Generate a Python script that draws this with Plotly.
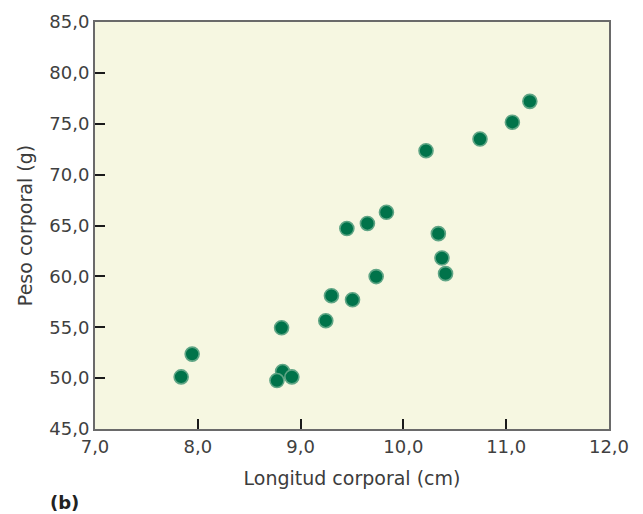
import plotly.graph_objects as go

longitud = [11.23, 11.06, 10.745, 10.22, 9.835, 9.65, 9.45, 10.34, 10.375, 10.41,
            9.735, 9.30, 9.505, 9.245, 8.815, 7.945, 7.838, 8.825, 8.915, 8.77]
peso = [77.2, 75.15, 73.5, 72.35, 66.3, 65.2, 64.7, 64.2, 61.8, 60.27,
        59.98, 58.1, 57.7, 55.64, 54.95, 52.36, 50.12, 50.65, 50.12, 49.76]

x_ticks = [7, 8, 9, 10, 11, 12]
y_ticks = [45, 50, 55, 60, 65, 70, 75, 80, 85]

fig = go.Figure()
fig.add_trace(go.Scatter(
    x=longitud, y=peso, mode="markers",
    marker=dict(size=14, color="#00734A", line=dict(color="#5FA585", width=1.6)),
    showlegend=False, hoverinfo="skip"))

font_family = "DejaVu Sans, Liberation Sans, Arial, sans-serif"
tick_font = dict(family=font_family, size=18, color="#404040")
fig.update_layout(
    width=643, height=514,
    margin=dict(l=95, r=34, t=22, b=85),
    paper_bgcolor="white",
    plot_bgcolor="#F6F7E1",
    separators=",.",
    font=dict(family=font_family, size=18, color="#3c3c3c"),
    xaxis=dict(range=[7, 12], tickvals=x_ticks, tickformat=".1f", tickfont=tick_font,
               ticks="inside", ticklen=10, tickwidth=2, tickcolor="#1a1a1a",
               showline=True, linecolor="#6a6a6a", linewidth=2, mirror=True,
               showgrid=False, zeroline=False,
               title=dict(text="Longitud corporal (cm)", font=dict(size=19), standoff=16)),
    yaxis=dict(range=[45, 85], tickvals=y_ticks, tickformat=".1f", tickfont=tick_font,
               ticks="inside", ticklen=10, tickwidth=2, tickcolor="#1a1a1a",
               showline=True, linecolor="#6a6a6a", linewidth=2, mirror=True,
               showgrid=False, zeroline=False,
               title=dict(text="Peso corporal (g)", font=dict(size=19), standoff=12)),
    annotations=[dict(text="<b>(b)</b>", xref="paper", yref="paper",
                      x=-0.092, y=-0.15, xanchor="left", yanchor="top",
                      showarrow=False, font=dict(size=18, color="#222222"))],
)

fig.write_html("out.html")
